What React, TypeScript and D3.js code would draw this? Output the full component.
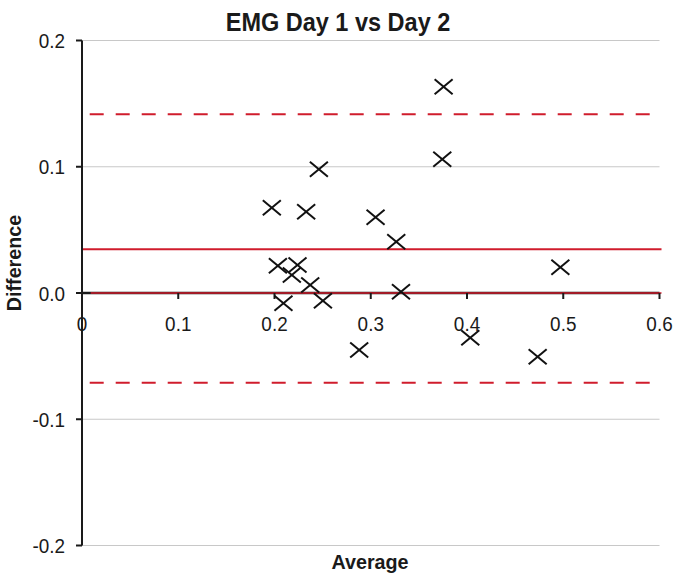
import React from "react";
import * as d3 from "d3";

const averages = [0.1972, 0.2035, 0.2093, 0.218, 0.2239, 0.2329, 0.2371, 0.2461, 0.2503, 0.288, 0.305, 0.3265, 0.3314, 0.3743, 0.3757, 0.4034, 0.4734, 0.497];
const differences = [0.0676, 0.0216, -0.0082, 0.0143, 0.0222, 0.0644, 0.0063, 0.098, -0.0061, -0.0451, 0.06, 0.0406, 0.001, 0.1059, 0.1634, -0.0354, -0.0505, 0.0204];
const meanDiff = 0.0346;
const upperLoA = 0.1415;
const lowerLoA = -0.071;
const xTicks = [0, 0.1, 0.2, 0.3, 0.4, 0.5, 0.6];
const yTicks = [-0.2, -0.1, 0, 0.1, 0.2];
const gridValues = [-0.2, -0.1, 0.1, 0.2];

const W = 680;
const H = 578;
const RED = "#d01c2c";
const FONT = "'Liberation Sans', Arial, sans-serif";

export default function App() {
  const x = d3.scaleLinear().domain([0, 0.6]).range([82, 659.5]);
  const y = d3.scaleLinear().domain([-0.2, 0.2]).range([545.5, 40.5]);
  const y0 = y(0);
  const mx = 9;
  const my = 7.5;
  const sx = 0.9;
  return (
    <svg width={W} height={H} style={{ position: "absolute", left: 0, top: 0, background: "#fff" }}>
      <rect x={0} y={0} width={W} height={H} fill="#fff" />
      <g transform={`translate(338,31) scale(0.94,1)`}>
        <text x={0} y={0} textAnchor="middle" fontFamily={FONT} fontWeight="bold" fontSize={25} fill="#1a1a1a">
          EMG Day 1 vs Day 2
        </text>
      </g>
      {gridValues.map((v) => (
        <line key={"g" + v} x1={x(0)} x2={x(0.6)} y1={y(v)} y2={y(v)} stroke="#c8c8c8" strokeWidth={1.2} />
      ))}
      {/* limits of agreement */}
      <line x1={x(0.008)} x2={x(0.6) + 2} y1={y(upperLoA)} y2={y(upperLoA)} stroke={RED} strokeWidth={2} strokeDasharray="14,12" />
      <line x1={x(0.008)} x2={x(0.6) + 2} y1={y(lowerLoA)} y2={y(lowerLoA)} stroke={RED} strokeWidth={2} strokeDasharray="14,12" />
      <line x1={x(0)} x2={x(0.6) + 2} y1={y(meanDiff)} y2={y(meanDiff)} stroke={RED} strokeWidth={2} />
      {/* x axis at zero */}
      <line x1={x(0)} x2={x(0.6)} y1={y0} y2={y0} stroke="#1a1a1a" strokeWidth={2.4} />
      <line x1={x(0.009)} x2={x(0.6) + 2} y1={y0} y2={y0} stroke={RED} strokeWidth={1.3} />
      {xTicks.map((v) => (
        <g key={"xt" + v}>
          <line x1={x(v)} x2={x(v)} y1={y0} y2={y0 + 6} stroke="#1a1a1a" strokeWidth={2} />
          <g transform={`translate(${x(v)},${y0 + 38}) scale(${sx},1)`}>
            <text x={0} y={0} textAnchor="middle" fontFamily={FONT} fontSize={21} fill="#1a1a1a">
              {v === 0 ? "0" : d3.format(".1f")(v)}
            </text>
          </g>
        </g>
      ))}
      {/* y axis */}
      <line x1={x(0)} x2={x(0)} y1={y(0.2)} y2={y(-0.2)} stroke="#1a1a1a" strokeWidth={2} />
      {yTicks.map((v) => (
        <g key={"yt" + v}>
          <line x1={x(0) - 6} x2={x(0)} y1={y(v)} y2={y(v)} stroke="#1a1a1a" strokeWidth={2} />
          <g transform={`translate(${x(0) - 17},${y(v) + 7.5}) scale(${sx},1)`}>
            <text x={0} y={0} textAnchor="end" fontFamily={FONT} fontSize={21} fill="#1a1a1a">
              {d3.format(".1f")(v).replace("−", "-")}
            </text>
          </g>
        </g>
      ))}
      {/* points */}
      {averages.map((a, i) => {
        const cx = x(a);
        const cy = y(differences[i]);
        return (
          <g key={"p" + i} stroke="#111" strokeWidth={2}>
            <line x1={cx - mx} x2={cx + mx} y1={cy - my} y2={cy + my} />
            <line x1={cx - mx} x2={cx + mx} y1={cy + my} y2={cy - my} />
          </g>
        );
      })}
      <g transform="translate(370,569) scale(0.94,1)">
        <text x={0} y={0} textAnchor="middle" fontFamily={FONT} fontWeight="bold" fontSize={21} fill="#1a1a1a">
          Average
        </text>
      </g>
      <g transform="translate(21,263) rotate(-90) scale(0.94,1)">
        <text x={0} y={0} textAnchor="middle" fontFamily={FONT} fontWeight="bold" fontSize={21} fill="#1a1a1a">
          Difference
        </text>
      </g>
    </svg>
  );
}
